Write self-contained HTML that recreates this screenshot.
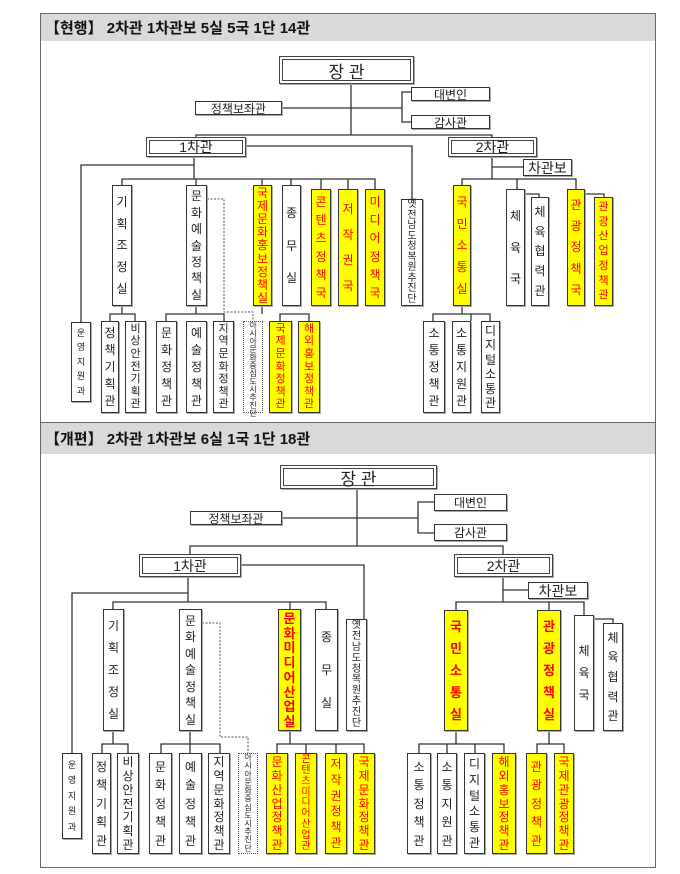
<!DOCTYPE html>
<html><head><meta charset="utf-8"><style>
body{margin:0;width:680px;height:874px;background:#fff;position:relative;overflow:hidden;font-family:"Liberation Sans","Noto Sans CJK KR",sans-serif}
.b{position:absolute;box-sizing:border-box;border:1.5px solid #333;background:#fff;display:flex;flex-direction:column;justify-content:space-evenly;align-items:center;font-size:12px;line-height:1;color:#222;box-shadow:1px 1px 0 #aaa}
.b i{font-style:normal;display:block}
.y{background:#ffff00;color:#f00}
.d{border:1px dotted #555;box-shadow:none}
.h{position:absolute;box-sizing:border-box;border:1.5px solid #333;background:#fff;font-size:12px;text-align:center;color:#222;display:flex;align-items:center;justify-content:center;box-shadow:1px 1px 0 #aaa}
.dbl{border:4px double #444}
.hd{position:absolute;left:41px;width:614px;background:#d9d9d9;font-size:15px;color:#111;padding-left:4px;box-sizing:border-box;display:flex;align-items:center}
svg{position:absolute;left:0;top:0}
</style></head><body>
<svg width="680" height="874">
<rect x="40.5" y="13.5" width="615" height="409" fill="none" stroke="#666"/>
<rect x="40.5" y="422.5" width="615" height="445" fill="none" stroke="#666"/>
<g stroke="#333" stroke-width="1.3" fill="none">
<path d="M351 84V135M282 108H402M411 92H402V122H411M196 137V135H492V137M246 146H412V199M194 157V179M194 165H81V322M122 185V179H375V189M196 179V185M262 179V185M291 179V185M321 179V189M348 179V189M122 306V314M110 321V314H135V321M196 306V314M166 321V314H224V321M262 306V314M280 321V314H309V321M492 157V179M492 167H523M462 185V179H576V189M517 179V189M525 194H539V197M585 194H604V197M462 306V314M433 321V314H490V321M471 314V321"/>
<path d="M357 489V546M282 518H418M434 502H418V533H434M190 554V546H503V554M241 565H364V619M188 577V602M188 593H72V753M113 609V602H326V609M290 602V609M113 731V744M102 753V744H128V753M190 731V744M161 753V744H220V753M190 744V753M290 731V744M277 753V744H364V753M306 744V753M336 744V753M503 577V602M503 590H528M456 610V602H584V615M549 602V610M594 619H613V623M456 731V744M419 753V744H504V753M447 744V753M475 744V753M549 731V744M537 753V744H564V753"/>
</g>
<g stroke="#555" stroke-width="1" stroke-dasharray="2,1.5" fill="none">
<path d="M207 199H224V312H253V321M202 623H220V737H248V753"/>
</g>
</svg>

<div class="hd" style="top:14px;height:27px;font-weight:bold">【현행】 2차관 1차관보 5실 5국 1단 14관</div>
<div class="hd" style="top:423px;height:31px;font-weight:bold">【개편】 2차관 1차관보 6실 1국 1단 18관</div>

<!-- top section -->
<div class="h dbl" style="left:279px;top:56px;width:135px;height:28px;font-size:17px">장 관</div>
<div class="h" style="left:195px;top:101px;width:87px;height:14px">정책보좌관</div>
<div class="h" style="left:411px;top:87px;width:79px;height:14px">대변인</div>
<div class="h" style="left:411px;top:115px;width:79px;height:14px">감사관</div>
<div class="h dbl" style="left:146px;top:137px;width:100px;height:20px;font-size:14px">1차관</div>
<div class="h dbl" style="left:448px;top:137px;width:89px;height:20px;font-size:14px">2차관</div>
<div class="h" style="left:523px;top:159px;width:49px;height:17px;font-size:14px">차관보</div>

<div class="b" style="left:112px;top:185px;width:20px;height:121px"><i>기</i><i>획</i><i>조</i><i>정</i><i>실</i></div>
<div class="b" style="left:186px;top:185px;width:21px;height:121px"><i>문</i><i>화</i><i>예</i><i>술</i><i>정</i><i>책</i><i>실</i></div>
<div class="b y" style="left:253px;top:185px;width:19px;height:121px"><i>국</i><i>제</i><i>문</i><i>화</i><i>홍</i><i>보</i><i>정</i><i>책</i><i>실</i></div>
<div class="b" style="left:282px;top:185px;width:19px;height:121px"><i>종</i><i>무</i><i>실</i></div>
<div class="b y" style="left:311px;top:189px;width:20px;height:117px"><i>콘</i><i>텐</i><i>츠</i><i>정</i><i>책</i><i>국</i></div>
<div class="b y" style="left:338px;top:189px;width:20px;height:117px"><i>저</i><i>작</i><i>권</i><i>국</i></div>
<div class="b y" style="left:365px;top:189px;width:20px;height:117px"><i>미</i><i>디</i><i>어</i><i>정</i><i>책</i><i>국</i></div>
<div class="b" style="left:401px;top:199px;width:22px;height:107px;font-size:10px"><i>옛</i><i>전</i><i>남</i><i>도</i><i>청</i><i>복</i><i>원</i><i>추</i><i>진</i><i>단</i></div>
<div class="b y" style="left:453px;top:185px;width:18px;height:121px"><i>국</i><i>민</i><i>소</i><i>통</i><i>실</i></div>
<div class="b" style="left:506px;top:189px;width:19px;height:117px"><i>체</i><i>육</i><i>국</i></div>
<div class="b" style="left:531px;top:197px;width:18px;height:109px"><i>체</i><i>육</i><i>협</i><i>력</i><i>관</i></div>
<div class="b y" style="left:567px;top:189px;width:18px;height:117px"><i>관</i><i>광</i><i>정</i><i>책</i><i>국</i></div>
<div class="b y" style="left:594px;top:197px;width:19px;height:109px;font-size:11px"><i>관</i><i>광</i><i>산</i><i>업</i><i>정</i><i>책</i><i>관</i></div>

<div class="b" style="left:71px;top:322px;width:20px;height:80px;font-size:9px"><i>운</i><i>영</i><i>지</i><i>원</i><i>과</i></div>
<div class="b" style="left:101px;top:321px;width:18px;height:92px"><i>정</i><i>책</i><i>기</i><i>획</i><i>관</i></div>
<div class="b" style="left:125px;top:321px;width:21px;height:92px;font-size:11px"><i>비</i><i>상</i><i>안</i><i>전</i><i>기</i><i>획</i><i>관</i></div>
<div class="b" style="left:156px;top:321px;width:21px;height:92px"><i>문</i><i>화</i><i>정</i><i>책</i><i>관</i></div>
<div class="b" style="left:186px;top:321px;width:21px;height:92px"><i>예</i><i>술</i><i>정</i><i>책</i><i>관</i></div>
<div class="b" style="left:213px;top:321px;width:21px;height:92px;font-size:11px"><i>지</i><i>역</i><i>문</i><i>화</i><i>정</i><i>책</i><i>관</i></div>
<div class="b d" style="left:243px;top:321px;width:20px;height:92px;font-size:8px"><i>아</i><i>시</i><i>아</i><i>문</i><i>화</i><i>중</i><i>심</i><i>도</i><i>시</i><i>추</i><i>진</i><i>단</i></div>
<div class="b y" style="left:269px;top:321px;width:23px;height:92px;font-size:11px"><i>국</i><i>제</i><i>문</i><i>화</i><i>정</i><i>책</i><i>관</i></div>
<div class="b y" style="left:298px;top:321px;width:22px;height:92px;font-size:11px"><i>해</i><i>외</i><i>홍</i><i>보</i><i>정</i><i>책</i><i>관</i></div>
<div class="b" style="left:423px;top:321px;width:22px;height:92px"><i>소</i><i>통</i><i>정</i><i>책</i><i>관</i></div>
<div class="b" style="left:452px;top:321px;width:19px;height:92px"><i>소</i><i>통</i><i>지</i><i>원</i><i>관</i></div>
<div class="b" style="left:481px;top:321px;width:19px;height:92px"><i>디</i><i>지</i><i>털</i><i>소</i><i>통</i><i>관</i></div>

<!-- bottom section -->
<div class="h dbl" style="left:280px;top:465px;width:157px;height:24px;font-size:17px">장 관</div>
<div class="h" style="left:190px;top:511px;width:92px;height:14px">정책보좌관</div>
<div class="h" style="left:434px;top:494px;width:73px;height:17px">대변인</div>
<div class="h" style="left:434px;top:524px;width:73px;height:17px">감사관</div>
<div class="h dbl" style="left:139px;top:554px;width:102px;height:23px;font-size:14px">1차관</div>
<div class="h dbl" style="left:454px;top:554px;width:99px;height:23px;font-size:14px">2차관</div>
<div class="h" style="left:528px;top:582px;width:60px;height:17px;font-size:14px">차관보</div>

<div class="b" style="left:103px;top:609px;width:21px;height:122px"><i>기</i><i>획</i><i>조</i><i>정</i><i>실</i></div>
<div class="b" style="left:179px;top:609px;width:23px;height:122px"><i>문</i><i>화</i><i>예</i><i>술</i><i>정</i><i>책</i><i>실</i></div>
<div class="b y" style="left:278px;top:609px;width:23px;height:122px;font-weight:bold;font-size:13px"><i>문</i><i>화</i><i>미</i><i>디</i><i>어</i><i>산</i><i>업</i><i>실</i></div>
<div class="b" style="left:315px;top:609px;width:23px;height:122px"><i>종</i><i>무</i><i>실</i></div>
<div class="b" style="left:346px;top:619px;width:21px;height:112px;font-size:10px"><i>옛</i><i>전</i><i>남</i><i>도</i><i>청</i><i>복</i><i>원</i><i>추</i><i>진</i><i>단</i></div>
<div class="b y" style="left:444px;top:610px;width:24px;height:121px;font-weight:bold;font-size:13px"><i>국</i><i>민</i><i>소</i><i>통</i><i>실</i></div>
<div class="b y" style="left:537px;top:610px;width:24px;height:121px;font-weight:bold;font-size:13px"><i>관</i><i>광</i><i>정</i><i>책</i><i>실</i></div>
<div class="b" style="left:574px;top:615px;width:20px;height:116px;justify-content:center;gap:10px"><i>체</i><i>육</i><i>국</i></div>
<div class="b" style="left:603px;top:623px;width:20px;height:108px"><i>체</i><i>육</i><i>협</i><i>력</i><i>관</i></div>

<div class="b" style="left:62px;top:753px;width:20px;height:86px;font-size:9px"><i>운</i><i>영</i><i>지</i><i>원</i><i>과</i></div>
<div class="b" style="left:92px;top:753px;width:19px;height:101px"><i>정</i><i>책</i><i>기</i><i>획</i><i>관</i></div>
<div class="b" style="left:117px;top:753px;width:22px;height:101px"><i>비</i><i>상</i><i>안</i><i>전</i><i>기</i><i>획</i><i>관</i></div>
<div class="b" style="left:149px;top:753px;width:23px;height:101px"><i>문</i><i>화</i><i>정</i><i>책</i><i>관</i></div>
<div class="b" style="left:179px;top:753px;width:23px;height:101px"><i>예</i><i>술</i><i>정</i><i>책</i><i>관</i></div>
<div class="b" style="left:208px;top:753px;width:22px;height:101px"><i>지</i><i>역</i><i>문</i><i>화</i><i>정</i><i>책</i><i>관</i></div>
<div class="b d" style="left:238px;top:753px;width:20px;height:101px;font-size:8px"><i>아</i><i>시</i><i>아</i><i>문</i><i>화</i><i>중</i><i>심</i><i>도</i><i>시</i><i>추</i><i>진</i><i>단</i></div>
<div class="b y" style="left:266px;top:753px;width:22px;height:101px"><i>문</i><i>화</i><i>산</i><i>업</i><i>정</i><i>책</i><i>관</i></div>
<div class="b y" style="left:295px;top:753px;width:22px;height:101px;font-size:10px"><i>콘</i><i>텐</i><i>츠</i><i>미</i><i>디</i><i>어</i><i>산</i><i>업</i><i>관</i></div>
<div class="b y" style="left:325px;top:753px;width:22px;height:101px"><i>저</i><i>작</i><i>권</i><i>정</i><i>책</i><i>관</i></div>
<div class="b y" style="left:353px;top:753px;width:22px;height:101px"><i>국</i><i>제</i><i>문</i><i>화</i><i>정</i><i>책</i><i>관</i></div>
<div class="b" style="left:407px;top:753px;width:24px;height:101px"><i>소</i><i>통</i><i>정</i><i>책</i><i>관</i></div>
<div class="b" style="left:437px;top:753px;width:20px;height:101px"><i>소</i><i>통</i><i>지</i><i>원</i><i>관</i></div>
<div class="b" style="left:464px;top:753px;width:21px;height:101px"><i>디</i><i>지</i><i>털</i><i>소</i><i>통</i><i>관</i></div>
<div class="b y" style="left:492px;top:753px;width:24px;height:101px"><i>해</i><i>외</i><i>홍</i><i>보</i><i>정</i><i>책</i><i>관</i></div>
<div class="b y" style="left:526px;top:753px;width:21px;height:101px"><i>관</i><i>광</i><i>정</i><i>책</i><i>관</i></div>
<div class="b y" style="left:554px;top:753px;width:20px;height:101px"><i>국</i><i>제</i><i>관</i><i>광</i><i>정</i><i>책</i><i>관</i></div>
</body></html>
